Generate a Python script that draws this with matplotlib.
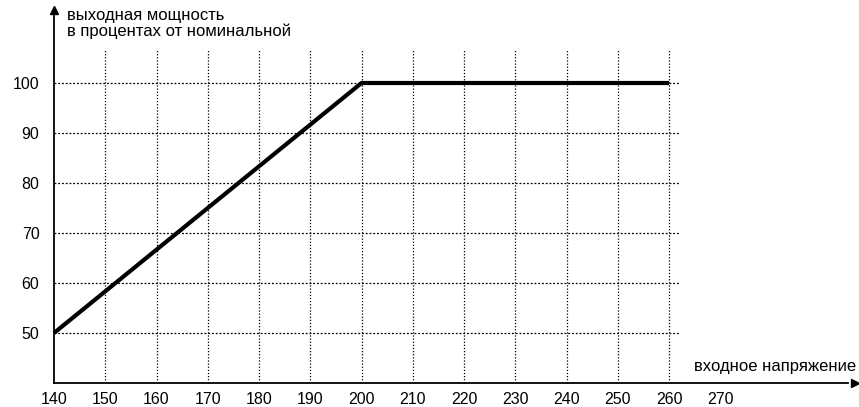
import matplotlib.pyplot as plt

# данные графика
voltage = [140, 200, 260]
power = [50, 100, 100]
x_ticks = [140, 150, 160, 170, 180, 190, 200, 210, 220, 230, 240, 250, 260, 270]
y_ticks = [50, 60, 70, 80, 90, 100]
grid_x = [150, 160, 170, 180, 190, 200, 210, 220, 230, 240, 250, 260]
y_title = ["выходная мощность", "в процентах от номинальной"]
x_title = "входное напряжение"

plt.rcParams['font.family'] = ['Liberation Sans', 'DejaVu Sans']

fig = plt.figure(figsize=(8.59, 4.07), dpi=100)
ax = fig.add_axes([0, 0, 1, 1])
ax.patch.set_alpha(0)
ax.set_xlim(129.46, 297.07)
ax.set_ylim(35.2, 116.6)

# оси
for side in ["top", "right"]:
    ax.spines[side].set_visible(False)
ax.spines["left"].set_position(("data", 140))
ax.spines["bottom"].set_position(("data", 40))
ax.spines["left"].set_bounds(40, 113.5)
ax.spines["bottom"].set_bounds(140, 295)
ax.spines["left"].set_linewidth(1.3)
ax.spines["bottom"].set_linewidth(1.3)
ax.plot([140], [114.6], marker="^", color="black", markersize=6, clip_on=False)
ax.plot([296.3], [40], marker=">", color="black", markersize=6, clip_on=False)

ax.set_xticks(x_ticks)
ax.set_xticklabels([str(v) for v in x_ticks])
ax.set_yticks(y_ticks)
ax.set_yticklabels([str(v) for v in y_ticks])
ax.tick_params(axis="x", length=0, pad=6.5, labelsize=11.5)
ax.tick_params(axis="y", length=0, pad=10.5, labelsize=11.5)

# сетка
ax.vlines(grid_x, 40, 106.6, colors="black", linestyles=(0, (1, 1.5)), linewidth=0.9)
ax.hlines(y_ticks, 140, 262.2, colors="black", linestyles=(0, (1.5, 1.5)), linewidth=0.9)

# кривая
ax.plot(voltage, power, color="black", linewidth=3, solid_capstyle="butt", zorder=5)

# подписи
ax.text(142.5, 113.5, y_title[0], fontsize=12, va="center", ha="left")
ax.text(142.5, 110.3, y_title[1], fontsize=12, va="center", ha="left")
ax.text(296.5, 43.3, x_title, fontsize=12, va="center", ha="right")

fig.savefig("out.png", dpi=100)
